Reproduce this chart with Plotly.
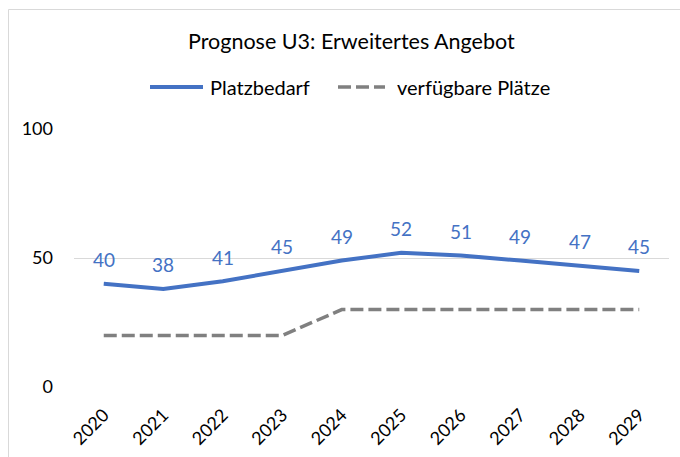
import plotly.graph_objects as go

years = ["2020", "2021", "2022", "2023", "2024", "2025", "2026", "2027", "2028", "2029"]
platzbedarf = [40, 38, 41, 45, 49, 52, 51, 49, 47, 45]
verfuegbar = [20, 20, 20, 20, 30, 30, 30, 30, 30, 30]

BLUE = "#4472C4"
GRAY = "#808080"
DASH = "13px,5px"
FONT = "Lato"

W, H = 680, 457
ML, MR, MT, MB = 74, 11, 129, 70
PW, PH = W - ML - MR, H - MT - MB


def px_x(px):
    return (px - ML) / PW


def px_y(py):
    return (H - MB - py) / PH


fig = go.Figure()
fig.add_trace(go.Scatter(
    x=years, y=platzbedarf, mode="lines", name="Platzbedarf",
    line=dict(color=BLUE, width=4), showlegend=False,
))
fig.add_trace(go.Scatter(
    x=years, y=verfuegbar, mode="lines", name="verfügbare Plätze",
    line=dict(color=GRAY, width=3.5, dash=DASH), showlegend=False,
))

# value labels above the demand line
for i, v in enumerate(platzbedarf):
    fig.add_annotation(x=i, y=v, text=str(v), showarrow=False, yshift=24,
                       font=dict(family=FONT, size=19, color=BLUE))

# title
fig.add_annotation(xref="paper", yref="paper", x=px_x(351), y=px_y(41),
                   text="Prognose U3: Erweitertes Angebot", showarrow=False,
                   xanchor="center", yanchor="middle",
                   font=dict(family=FONT, size=21.5, color="#000000"))

# legend row: line sample + series name
legend_items = [
    ("Platzbedarf", BLUE, "solid", 150, 203, 208),
    ("verfügbare Plätze", GRAY, DASH, 338, 385, 395),
]
for name, color, dash, lx0, lx1, tx in legend_items:
    fig.add_shape(type="line", xref="paper", yref="paper",
                  x0=px_x(lx0), x1=px_x(lx1), y0=px_y(87), y1=px_y(87),
                  line=dict(color=color, width=4 if dash == "solid" else 3.5, dash=dash))
    fig.add_annotation(xref="paper", yref="paper", x=px_x(tx), y=px_y(87),
                       text=name, showarrow=False, xanchor="left", yanchor="middle",
                       font=dict(family=FONT, size=20, color="#000000"))

# outer chart frame
fig.add_shape(type="rect", xref="paper", yref="paper",
              x0=px_x(8.5), y0=px_y(470), x1=px_x(700), y1=px_y(9.5),
              line=dict(color="#D9D9D9", width=1), fillcolor="rgba(0,0,0,0)",
              layer="below")

fig.update_layout(
    width=W, height=H,
    margin=dict(l=ML, r=MR, t=MT, b=MB, autoexpand=False),
    paper_bgcolor="white", plot_bgcolor="white",
    font=dict(family=FONT, size=18, color="#000000"),
    showlegend=False,
    xaxis=dict(type="category", range=[-0.5, 9.5], showgrid=False,
               showline=False, ticks="", tickangle=-45, ticklabelstandoff=13,
               automargin=False,
               tickfont=dict(family=FONT, size=18, color="#000000")),
    yaxis=dict(range=[0, 100], tickvals=[0, 50, 100], showgrid=True,
               gridcolor="#D9D9D9", gridwidth=1, zeroline=False,
               showline=False, ticks="", ticklabelstandoff=20,
               automargin=False,
               tickfont=dict(family=FONT, size=18, color="#000000")),
)

fig.write_html("out.html")
